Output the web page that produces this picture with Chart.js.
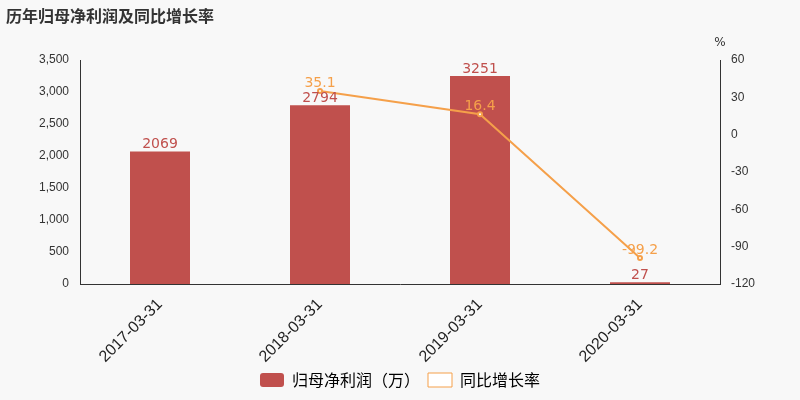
<!DOCTYPE html>
<html><head><meta charset="utf-8">
<script src="https://cdn.jsdelivr.net/npm/chart.js@4"></script>
<style>
body{margin:0;background:#f8f8f8;font-family:"Noto Sans CJK SC","DejaVu Sans",sans-serif}
#wrap{position:relative;width:800px;height:400px}
#title{position:absolute;left:6px;top:3px;font-size:16px;font-weight:bold;color:#333}
</style></head><body>
<div id="wrap"><div id="title">历年归母净利润及同比增长率</div><canvas id="c" width="800" height="400"></canvas></div>
<script>
// 数据
const categories = ["2017-03-31", "2018-03-31", "2019-03-31", "2020-03-31"];
const profit = [2069, 2794, 3251, 27];
const growth = [null, 35.1, 16.4, -99.2];

// 数値ラベルを描くプラグイン
const labelPlugin = {
  id: "labels",
  afterDatasetsDraw(chart) {
    const ctx = chart.ctx;
    ctx.save();
    ctx.font = "14px 'DejaVu Sans'";
    ctx.textAlign = "center";
    chart.getDatasetMeta(0).data.forEach((el, i) => {
      ctx.fillStyle = "#c0504d";
      ctx.fillText(profit[i], el.x, el.y - 7);
    });
    chart.getDatasetMeta(1).data.forEach((el, i) => {
      if (growth[i] === null) return;
      ctx.fillStyle = "#f5a04a";
      ctx.fillText(growth[i], el.x, el.y - 8);
    });
    // 右軸の単位
    ctx.fillStyle = "#333";
    ctx.font = "12px 'DejaVu Sans'";
    ctx.fillText("%", chart.scales.y1.left, 43);
    ctx.restore();
  }
};

new Chart(document.getElementById("c"), {
  data: {
    labels: categories,
    datasets: [
      { type: "bar", label: "归母净利润（万）", data: profit, backgroundColor: "#c0504d",
        yAxisID: "y", barPercentage: 0.75, categoryPercentage: 0.5, order: 2 },
      { type: "line", label: "同比增长率", data: growth, borderColor: "#f5a04a", backgroundColor: "#fff",
        borderWidth: 2, pointRadius: 2, pointBorderColor: "#f5a04a", pointBackgroundColor: "#fff",
        yAxisID: "y1", order: 1 }
    ]
  },
  options: {
    responsive: false, animation: false,
    layout: { padding: { top: 60, left: 0, right: 0, bottom: 2 } },
    plugins: {
      legend: { position: "bottom", labels: { font: { size: 16, family: "Noto Sans CJK SC" }, color: "#333",
        boxWidth: 24, boxHeight: 14, padding: 8,
        generateLabels(chart) {
          return [
            { text: "归母净利润（万）", fillStyle: "#c0504d", strokeStyle: "#c0504d", lineWidth: 0, datasetIndex: 0, borderRadius: 3 },
            { text: "同比增长率", fillStyle: "#fff", strokeStyle: "#f5a04a", lineWidth: 1, datasetIndex: 1 }
          ];
        } } },
      tooltip: { enabled: false }
    },
    scales: {
      x: { grid: { display: false }, border: { color: "#333" },
        afterFit(s) { s.height = 80; },
        ticks: { color: "#222", font: { size: 16 }, maxRotation: 45, minRotation: 45 } },
      y: { min: 0, max: 3500, afterFit(s) { s.width = 80; },
        ticks: { stepSize: 500, color: "#333", font: { size: 12 } },
        grid: { display: false }, border: { color: "#333" } },
      y1: { position: "right", min: -120, max: 60, afterFit(s) { s.width = 80; },
        ticks: { stepSize: 30, color: "#333", font: { size: 12 } },
        grid: { display: false }, border: { color: "#333" } }
    }
  },
  plugins: [labelPlugin]
});
</script>
</body></html>
